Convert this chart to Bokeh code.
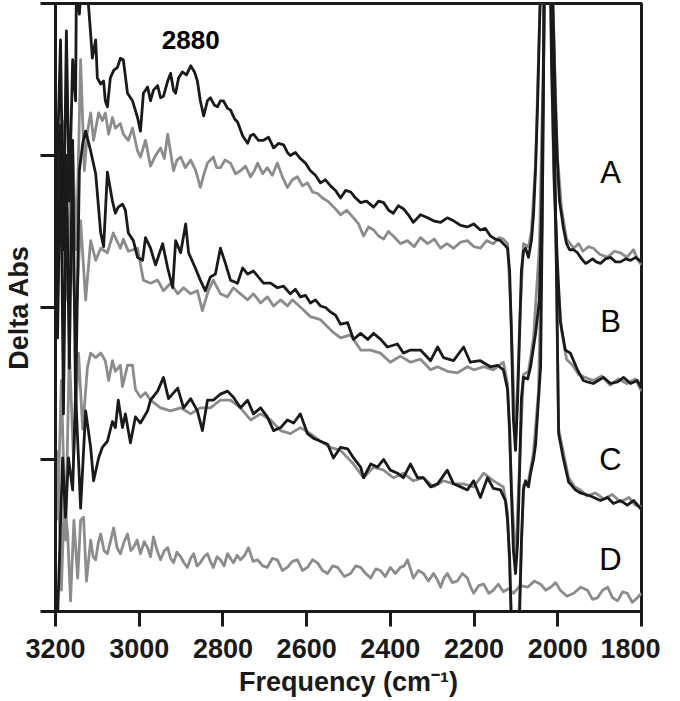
from bokeh.plotting import figure
from bokeh.models import Range1d, FixedTicker, CustomJSTickFormatter
from bokeh.core.properties import value
from bokeh.embed import file_html
from bokeh.resources import INLINE

# (wavenumber cm-1, delta absorbance) pairs
A_black = [(3198, 2.2), (3195, 3.03), (3188, 3.76), (3181, 2.38), (3174, 3.82), (3167, 2.70), (3159, 3.63), (3152, 3.36),
           (3150, 4.15), (3143, 3.93), (3135, 4.22), (3124, 4.09), (3116, 3.80), (3112, 3.64), (3104, 3.76), (3100, 3.51),
           (3092, 3.47), (3085, 3.49), (3081, 3.36), (3076, 3.32), (3069, 3.51), (3061, 3.56), (3052, 3.58), (3045, 3.64),
           (3038, 3.63), (3028, 3.41), (3016, 3.36), (3004, 3.25), (2997, 3.16), (2990, 3.41), (2980, 3.45), (2973, 3.36),
           (2966, 3.43), (2956, 3.46), (2949, 3.38), (2942, 3.39), (2932, 3.49), (2925, 3.54), (2918, 3.43), (2913, 3.41),
           (2906, 3.51), (2897, 3.55), (2887, 3.53), (2877, 3.59), (2868, 3.55), (2861, 3.49), (2854, 3.36), (2846, 3.26),
           (2837, 3.36), (2830, 3.38), (2820, 3.33), (2813, 3.32), (2806, 3.36), (2799, 3.36), (2789, 3.31), (2782, 3.30),
           (2772, 3.24), (2765, 3.22), (2753, 3.13), (2741, 3.08), (2734, 3.13), (2727, 3.14), (2715, 3.10), (2703, 3.10),
           (2691, 3.12), (2679, 3.05), (2667, 3.08), (2655, 3.07), (2646, 3.02), (2639, 3.00), (2627, 3.02), (2615, 2.98),
           (2603, 2.95), (2591, 2.90), (2579, 2.87), (2567, 2.82), (2555, 2.84), (2543, 2.80), (2531, 2.77), (2519, 2.72),
           (2507, 2.77), (2495, 2.76), (2483, 2.72), (2471, 2.69), (2457, 2.70), (2440, 2.66), (2428, 2.70), (2416, 2.69),
           (2404, 2.64), (2393, 2.62), (2381, 2.67), (2369, 2.65), (2357, 2.61), (2345, 2.56), (2328, 2.61), (2311, 2.59),
           (2297, 2.57), (2280, 2.56), (2264, 2.59), (2249, 2.57), (2232, 2.54), (2216, 2.53), (2201, 2.55), (2185, 2.51),
           (2173, 2.52), (2161, 2.47), (2149, 2.45), (2137, 2.44), (2130, 2.42), (2120, 2.39), (2115, 2.24), (2111, 1.85),
           (2106, 1.26), (2101, 1.06), (2096, 1.39), (2091, 1.85), (2087, 2.24), (2082, 2.37), (2077, 2.39), (2070, 2.33),
           (2063, 2.44), (2058, 2.61), (2053, 2.92), (2048, 3.36), (2044, 3.82), (2039, 4.35), (2027, 5.34), (2015, 4.35),
           (2010, 3.82), (2006, 3.36), (2001, 2.97), (1996, 2.70), (1991, 2.61), (1987, 2.53), (1979, 2.42), (1972, 2.38),
           (1962, 2.38), (1953, 2.36), (1943, 2.32), (1934, 2.29), (1927, 2.30), (1917, 2.32), (1908, 2.30), (1898, 2.29),
           (1886, 2.32), (1874, 2.33), (1862, 2.30), (1850, 2.30), (1838, 2.32), (1826, 2.31), (1814, 2.33), (1800, 2.30)]

A_gray = [(3195, 2.70), (3183, 3.23), (3171, 2.05), (3159, 3.03), (3150, 2.38), (3140, 3.63), (3131, 2.90), (3124, 3.15),
          (3116, 3.28), (3109, 3.10), (3097, 3.28), (3088, 3.23), (3081, 3.28), (3073, 3.14), (3064, 3.25), (3057, 3.18),
          (3045, 3.21), (3038, 3.14), (3026, 3.10), (3016, 3.18), (3004, 3.03), (2997, 2.99), (2985, 3.10), (2973, 2.93),
          (2961, 3.00), (2949, 3.05), (2940, 2.98), (2932, 3.14), (2925, 3.02), (2918, 2.90), (2910, 2.97), (2901, 2.99),
          (2890, 2.92), (2877, 2.97), (2865, 2.90), (2854, 2.79), (2845, 2.88), (2837, 2.95), (2823, 2.99), (2815, 2.92),
          (2806, 2.92), (2795, 2.97), (2782, 2.95), (2770, 2.88), (2758, 2.90), (2746, 2.93), (2734, 2.86), (2725, 2.90),
          (2717, 2.95), (2705, 2.88), (2694, 2.92), (2682, 2.87), (2670, 2.95), (2658, 2.86), (2646, 2.79), (2634, 2.84),
          (2622, 2.86), (2610, 2.80), (2598, 2.82), (2586, 2.76), (2574, 2.75), (2562, 2.72), (2550, 2.70), (2535, 2.66),
          (2519, 2.61), (2504, 2.64), (2488, 2.59), (2476, 2.55), (2464, 2.47), (2452, 2.53), (2440, 2.51), (2428, 2.47),
          (2416, 2.45), (2405, 2.50), (2393, 2.47), (2376, 2.42), (2359, 2.44), (2343, 2.40), (2328, 2.46), (2311, 2.42),
          (2295, 2.45), (2280, 2.39), (2265, 2.42), (2249, 2.39), (2232, 2.43), (2216, 2.44), (2200, 2.40), (2185, 2.39),
          (2170, 2.44), (2154, 2.42), (2140, 2.46), (2130, 2.45), (2120, 2.42), (2111, 1.90), (2101, 1.10), (2091, 1.90),
          (2082, 2.42), (2070, 2.40), (2063, 2.50), (2053, 2.95), (2044, 3.85), (2027, 5.30), (2010, 3.85), (2001, 3.00),
          (1991, 2.65), (1979, 2.45), (1962, 2.39), (1950, 2.42), (1940, 2.37), (1927, 2.40), (1915, 2.39), (1900, 2.35),
          (1881, 2.33), (1865, 2.37), (1850, 2.36), (1835, 2.33), (1819, 2.38), (1810, 2.32), (1800, 2.28)]

B_black = [(3198, 2.5), (3195, 1.80), (3188, 3.20), (3181, 1.30), (3174, 3.00), (3167, 1.60), (3159, 3.10), (3152, 1.35),
           (3143, 2.90), (3135, 3.08), (3128, 3.16), (3116, 3.03), (3104, 2.88), (3092, 2.49), (3085, 2.40), (3076, 2.89),
           (3064, 2.70), (3057, 2.62), (3050, 2.66), (3040, 2.68), (3033, 2.64), (3026, 2.49), (3014, 2.44), (3004, 2.33),
           (2992, 2.31), (2985, 2.46), (2973, 2.39), (2961, 2.28), (2944, 2.42), (2932, 2.26), (2920, 2.13), (2913, 2.44),
           (2901, 2.36), (2889, 2.55), (2882, 2.36), (2866, 2.26), (2854, 2.18), (2842, 2.11), (2830, 2.20), (2818, 2.22),
           (2806, 2.39), (2794, 2.29), (2782, 2.18), (2765, 2.16), (2753, 2.26), (2741, 2.22), (2727, 2.24), (2715, 2.20),
           (2703, 2.16), (2686, 2.16), (2670, 2.13), (2655, 2.14), (2639, 2.09), (2627, 2.12), (2615, 2.07), (2603, 2.08),
           (2591, 2.03), (2579, 2.05), (2567, 2.01), (2555, 2.00), (2543, 1.97), (2531, 1.95), (2519, 1.89), (2502, 1.90),
           (2488, 1.79), (2471, 1.83), (2454, 1.79), (2440, 1.83), (2423, 1.79), (2407, 1.74), (2383, 1.76), (2369, 1.70),
           (2352, 1.72), (2328, 1.72), (2304, 1.65), (2287, 1.74), (2273, 1.67), (2249, 1.65), (2225, 1.74), (2209, 1.64),
           (2185, 1.65), (2161, 1.61), (2144, 1.62), (2130, 1.59), (2120, 1.46), (2115, 1.20), (2111, 0.80), (2106, 0.40),
           (2101, 0.25), (2096, 0.45), (2091, 0.95), (2087, 1.40), (2082, 1.54), (2072, 1.53), (2065, 1.61), (2053, 1.83),
           (2044, 2.05), (2039, 2.60), (2034, 3.60), (2027, 6.00), (2020, 4.60), (2015, 3.60), (2008, 2.80), (2001, 2.30),
           (1994, 1.91), (1982, 1.72), (1970, 1.70), (1953, 1.59), (1939, 1.52), (1929, 1.51), (1915, 1.50), (1891, 1.54),
           (1874, 1.50), (1857, 1.51), (1843, 1.54), (1826, 1.50), (1810, 1.52), (1800, 1.47)]

B_gray = [(3195, 2.05), (3186, 2.90), (3176, 2.18), (3164, 2.70), (3152, 1.85), (3140, 2.57), (3128, 2.05), (3116, 2.44),
          (3104, 2.31), (3092, 2.39), (3076, 2.36), (3062, 2.49), (3045, 2.39), (3038, 2.45), (3026, 2.37), (3004, 2.39),
          (2990, 2.18), (2973, 2.16), (2956, 2.18), (2942, 2.11), (2925, 2.16), (2908, 2.09), (2894, 2.13), (2877, 2.09),
          (2861, 2.11), (2849, 1.98), (2835, 2.11), (2823, 2.18), (2806, 2.09), (2789, 2.07), (2775, 2.13), (2758, 2.09),
          (2741, 2.05), (2727, 2.09), (2710, 2.03), (2694, 2.07), (2679, 2.01), (2662, 2.05), (2646, 2.01), (2634, 2.05),
          (2610, 1.99), (2591, 1.94), (2567, 1.92), (2538, 1.84), (2519, 1.80), (2495, 1.82), (2471, 1.72), (2447, 1.72),
          (2424, 1.70), (2400, 1.64), (2376, 1.68), (2352, 1.64), (2328, 1.66), (2304, 1.59), (2287, 1.61), (2264, 1.58),
          (2240, 1.57), (2216, 1.61), (2201, 1.59), (2177, 1.61), (2154, 1.59), (2130, 1.64), (2120, 1.50), (2111, 0.85),
          (2101, 0.30), (2091, 1.00), (2082, 1.56), (2070, 1.58), (2058, 1.80), (2044, 2.40), (2034, 3.70), (2027, 6.00),
          (2020, 4.60), (2010, 2.90), (2001, 2.20), (1991, 1.85), (1979, 1.66), (1965, 1.62), (1950, 1.56), (1935, 1.54),
          (1915, 1.52), (1895, 1.55), (1875, 1.49), (1855, 1.53), (1835, 1.50), (1815, 1.53), (1800, 1.45)]

C_black = [(3198, -0.30), (3183, 1.01), (3176, 0.62), (3169, 1.01), (3159, 0.80), (3152, 1.44), (3140, 0.68), (3128, 1.32),
           (3116, 1.08), (3109, 0.86), (3097, 1.01), (3088, 1.08), (3076, 1.12), (3064, 1.25), (3057, 1.21), (3050, 1.39),
           (3040, 1.21), (3033, 1.30), (3021, 1.11), (3009, 1.28), (2997, 1.24), (2980, 1.32), (2973, 1.39), (2956, 1.45),
           (2942, 1.54), (2930, 1.40), (2908, 1.47), (2894, 1.34), (2877, 1.40), (2861, 1.32), (2849, 1.19), (2837, 1.39),
           (2823, 1.39), (2806, 1.43), (2789, 1.45), (2775, 1.41), (2758, 1.34), (2741, 1.39), (2727, 1.30), (2710, 1.34),
           (2694, 1.28), (2679, 1.19), (2662, 1.21), (2646, 1.26), (2631, 1.24), (2615, 1.30), (2598, 1.17), (2584, 1.14),
           (2567, 1.12), (2550, 1.10), (2536, 1.01), (2519, 1.08), (2502, 1.07), (2488, 1.01), (2471, 0.95), (2464, 0.88),
           (2447, 0.97), (2431, 0.95), (2416, 1.00), (2400, 0.93), (2383, 0.91), (2369, 0.88), (2352, 0.97), (2335, 0.88),
           (2321, 0.88), (2304, 0.82), (2287, 0.84), (2264, 0.93), (2249, 0.84), (2232, 0.82), (2216, 0.80), (2201, 0.86),
           (2185, 0.75), (2168, 0.88), (2154, 0.81), (2137, 0.80), (2125, 0.73), (2120, 0.60), (2115, 0.35), (2111, -0.10),
           (2106, -0.50), (2101, -0.60), (2096, -0.40), (2091, 0.00), (2087, 0.45), (2082, 0.80), (2077, 0.86), (2070, 0.82),
           (2065, 0.91), (2058, 1.00), (2053, 1.10), (2046, 1.40), (2041, 1.61), (2037, 2.60), (2032, 4.20), (2025, 5.60),
           (2018, 4.50), (2010, 3.50), (2003, 2.20), (1998, 1.17), (1987, 1.01), (1974, 0.85), (1970, 0.84), (1958, 0.80),
           (1946, 0.78), (1922, 0.76), (1898, 0.73), (1881, 0.75), (1867, 0.71), (1850, 0.73), (1834, 0.70), (1819, 0.73),
           (1800, 0.67)]

C_gray = [(3195, 0.60), (3186, 1.52), (3176, 0.47), (3167, 1.72), (3157, 1.00), (3145, 1.70), (3135, 1.20), (3124, 1.60),
          (3116, 1.70), (3104, 1.67), (3092, 1.70), (3081, 1.65), (3073, 1.52), (3064, 1.65), (3057, 1.58), (3045, 1.62),
          (3040, 1.48), (3028, 1.62), (3016, 1.62), (3009, 1.46), (2997, 1.41), (2985, 1.44), (2973, 1.39), (2949, 1.34),
          (2925, 1.32), (2901, 1.34), (2877, 1.30), (2854, 1.34), (2830, 1.34), (2806, 1.39), (2782, 1.39), (2758, 1.34),
          (2734, 1.26), (2710, 1.30), (2686, 1.26), (2662, 1.19), (2639, 1.17), (2615, 1.21), (2591, 1.17), (2567, 1.12),
          (2543, 1.08), (2519, 1.06), (2488, 0.97), (2464, 0.88), (2440, 0.95), (2416, 0.93), (2393, 0.88), (2369, 0.91),
          (2345, 0.86), (2321, 0.88), (2297, 0.82), (2273, 0.86), (2249, 0.84), (2225, 0.84), (2201, 0.82), (2177, 0.91),
          (2154, 0.86), (2130, 0.82), (2120, 0.65), (2111, 0.00), (2101, -0.50), (2091, 0.10), (2082, 0.83), (2070, 0.86),
          (2058, 1.05), (2046, 1.45), (2037, 2.60), (2027, 5.60), (2018, 4.50), (2010, 3.50), (2003, 2.20), (1998, 1.20),
          (1987, 1.05), (1974, 0.88), (1960, 0.82), (1946, 0.80), (1930, 0.76), (1910, 0.78), (1890, 0.74), (1870, 0.77),
          (1850, 0.72), (1830, 0.75), (1815, 0.70), (1800, 0.69)]

D_gray = [(3195, 1.06), (3186, 0.14), (3179, 0.73), (3171, 0.51), (3164, 0.07), (3156, 0.60), (3147, 0.22), (3140, 0.60),
          (3133, 0.62), (3126, 0.20), (3116, 0.47), (3110, 0.36), (3104, 0.34), (3098, 0.45), (3092, 0.51), (3084, 0.40),
          (3076, 0.38), (3068, 0.47), (3061, 0.55), (3053, 0.42), (3045, 0.38), (3036, 0.46), (3028, 0.51), (3020, 0.40),
          (3014, 0.42), (3005, 0.47), (2997, 0.38), (2988, 0.46), (2980, 0.42), (2973, 0.36), (2966, 0.49), (2957, 0.40),
          (2949, 0.34), (2940, 0.40), (2932, 0.42), (2925, 0.35), (2918, 0.32), (2910, 0.39), (2901, 0.36), (2893, 0.32),
          (2885, 0.29), (2877, 0.35), (2870, 0.38), (2862, 0.30), (2854, 0.32), (2845, 0.36), (2837, 0.38), (2830, 0.33),
          (2823, 0.29), (2814, 0.36), (2806, 0.34), (2797, 0.30), (2789, 0.38), (2782, 0.35), (2775, 0.32), (2766, 0.37),
          (2758, 0.34), (2748, 0.37), (2739, 0.42), (2728, 0.33), (2717, 0.34), (2705, 0.30), (2694, 0.29), (2682, 0.35),
          (2670, 0.34), (2658, 0.27), (2646, 0.29), (2634, 0.33), (2622, 0.34), (2610, 0.27), (2598, 0.29), (2586, 0.34),
          (2574, 0.32), (2562, 0.27), (2550, 0.25), (2538, 0.30), (2526, 0.29), (2510, 0.23), (2495, 0.25), (2483, 0.30),
          (2471, 0.29), (2459, 0.25), (2447, 0.22), (2435, 0.28), (2424, 0.27), (2412, 0.23), (2400, 0.29), (2388, 0.25),
          (2376, 0.29), (2367, 0.30), (2359, 0.34), (2352, 0.28), (2345, 0.22), (2333, 0.27), (2321, 0.25), (2309, 0.20),
          (2297, 0.25), (2288, 0.21), (2280, 0.16), (2272, 0.22), (2264, 0.25), (2252, 0.19), (2240, 0.20), (2228, 0.25),
          (2216, 0.22), (2208, 0.16), (2201, 0.12), (2189, 0.17), (2177, 0.18), (2165, 0.12), (2154, 0.14), (2142, 0.18),
          (2130, 0.13), (2118, 0.15), (2106, 0.12), (2090, 0.17), (2072, 0.16), (2056, 0.20), (2041, 0.18), (2029, 0.14),
          (2017, 0.16), (2005, 0.19), (1994, 0.14), (1978, 0.10), (1962, 0.12), (1945, 0.16), (1929, 0.14), (1917, 0.08),
          (1905, 0.09), (1893, 0.14), (1881, 0.16), (1869, 0.09), (1857, 0.07), (1845, 0.13), (1834, 0.12), (1822, 0.06),
          (1810, 0.09), (1800, 0.12)]

x_ticks = [3200, 3000, 2800, 2600, 2400, 2200, 2000, 1800]
y_ticks = [0, 1, 2, 3, 4]

trace_labels = ["A", "B", "C", "D"]
label_wn = [1874, 1874, 1874, 1874]
label_abs = [2.89, 1.91, 1.00, 0.34]

peak_text = ["2880"]
peak_wn = [2877]
peak_abs = [3.76]

FONT = "Liberation Sans"
BLACK = "#1a1a1a"
GRAY = "#8c8c8c"

p = figure(width=660, height=700, x_range=Range1d(3200, 1800), y_range=Range1d(0, 4),
           output_backend="svg", toolbar_location=None,
           min_border_left=55, min_border_right=19, min_border_top=3, min_border_bottom=89)

for series in (A_gray, B_gray, C_gray, D_gray):
    xs, ys = zip(*series)
    p.line(list(xs), list(ys), line_color=GRAY, line_width=2.8, line_join="round")
for series in (A_black, B_black, C_black):
    xs, ys = zip(*series)
    p.line(list(xs), list(ys), line_color=BLACK, line_width=2.8, line_join="round")

p.text(x=label_wn, y=label_abs, text=trace_labels, text_font=value(FONT), text_font_size="31px",
       text_align="center", text_baseline="middle", text_color="black")
p.text(x=peak_wn, y=peak_abs, text=peak_text, text_font=value(FONT), text_font_size="26px",
       text_font_style="bold", text_align="center", text_baseline="middle", text_color="black")

p.grid.visible = False
p.outline_line_color = BLACK
p.outline_line_width = 3

p.xaxis.ticker = FixedTicker(ticks=x_ticks)
p.yaxis.ticker = FixedTicker(ticks=y_ticks)
p.yaxis.formatter = CustomJSTickFormatter(code="return ''")

for ax in (p.xaxis[0], p.yaxis[0]):
    ax.axis_line_width = 3
    ax.axis_line_color = BLACK
    ax.major_tick_line_width = 3
    ax.major_tick_line_color = BLACK
    ax.major_tick_out = 15
    ax.major_tick_in = 0
    ax.minor_tick_line_color = None
    ax.major_label_text_font = FONT
    ax.major_label_text_font_style = "bold"
    ax.major_label_text_font_size = "27px"
    ax.major_label_text_color = BLACK
    ax.axis_label_text_font = FONT
    ax.axis_label_text_font_style = "bold"
    ax.axis_label_text_font_size = "27px"
    ax.axis_label_text_color = BLACK

p.xaxis.axis_label = "Frequency (cm\u207b\u00b9)"
p.xaxis.major_label_standoff = 12
p.xaxis.axis_label_standoff = 6
p.yaxis.axis_label = "Delta Abs"
p.yaxis.major_label_standoff = 0
p.yaxis.axis_label_standoff = 7

open("out.html", "w").write(file_html(p, INLINE))
